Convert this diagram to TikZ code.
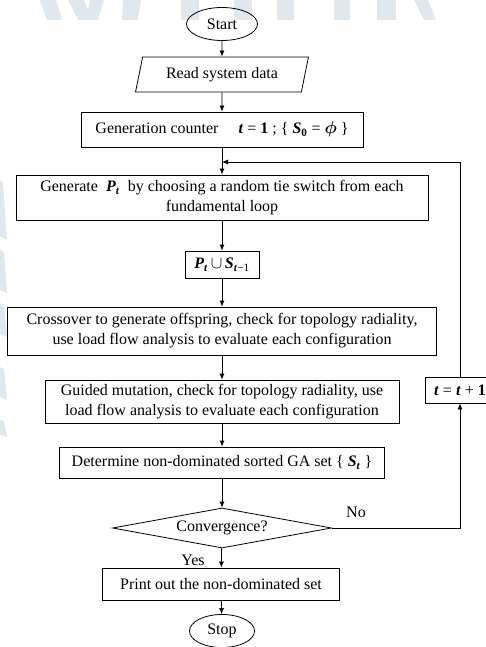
\documentclass[tikz,border=0pt]{standalone}
\usepackage{amsmath}
\usepackage{amssymb}
\usepackage{bm}
\usepackage{fontspec}
\setmainfont{Liberation Serif}
\usetikzlibrary{shapes.geometric,arrows.meta}
\newcommand{\bvar}[1]{\textbf{\textit{#1}}}
\definecolor{wmark}{RGB}{224,231,237}

\begin{document}
\begin{tikzpicture}[x=1pt, y=-1pt, line width=0.8pt,
  font=\fontsize{16}{20}\selectfont,
  >={Latex[length=6pt,width=5pt]},
  box/.style={draw, rectangle, align=center, inner sep=2pt},
  term/.style={draw, ellipse, inner sep=0pt},
  io/.style={draw, trapezium, trapezium left angle=71, trapezium right angle=109, trapezium stretches=true, inner sep=0pt},
  test/.style={draw, diamond, aspect=5.5, inner sep=0pt}]

\useasboundingbox (0,0) rectangle (486,647);

% faint watermark in the background
\fill[wmark] (40,0) -- (56,0) -- (62,20) -- (47,20) -- cycle;
\fill[wmark] (68,0) -- (84,0) -- (92,20) -- (78,20) -- cycle;
\fill[wmark] (90,0) -- (104,0) -- (98,20) -- (86,20) -- cycle;
\fill[wmark] (123,0) -- (141,0) -- (138,20) -- (122,20) -- cycle;
\fill[wmark] (181,0) -- (199,0) -- (199,20) -- (181,20) -- cycle;
\fill[wmark] (234,0) -- (252,0) -- (252,20) -- (234,20) -- cycle;
\fill[wmark] (277,0) -- (294,0) -- (294,20) -- (277,20) -- cycle;
\fill[wmark] (334,0) -- (350,0) -- (350,20) -- (334,20) -- cycle;
\fill[wmark] (377,0) -- (396,0) -- (396,20) -- (377,20) -- cycle;
\fill[wmark] (414,0) -- (428,0) -- (436,20) -- (424,20) -- cycle;
\fill[wmark] (0,180) -- (3,182) -- (7,240) -- (0,236) -- cycle;
\fill[wmark] (0,250) -- (4,252) -- (7,293) -- (0,290) -- cycle;
\fill[wmark] (0,303) -- (4,305) -- (7,337) -- (0,334) -- cycle;
\fill[wmark] (0,367) -- (4,369) -- (7,400) -- (0,397) -- cycle;
\fill[wmark] (0,420) -- (4,421) -- (7,437) -- (0,435) -- cycle;

\node[term, minimum width=71pt, minimum height=33pt] (start) at (222,24) {Start};
\node[io, minimum width=173pt, minimum height=35pt] (read) at (222,74.5) {Read system data};
\node[box, minimum width=282pt, minimum height=35pt] (init) at (222,129.5) {Generation counter \quad \bvar{t} = \textbf{1} ; \{ \bvar{S}\textsubscript{\textbf{0}} = $\bm{\phi}$ \}};
\node[box, minimum width=412pt, minimum height=45pt] (gen) at (222,197.5) {Generate \ \bvar{P}\textsubscript{\bvar{t}} \ by choosing a random tie switch from each\\ fundamental loop};
\node[box, minimum width=74pt, minimum height=27pt] (union) at (222,264.5) {\bvar{P}\textsubscript{\bvar{t}}\,$\cup$\,\bvar{S}\textsubscript{\bvar{t}−1}};
\node[box, minimum width=429pt, minimum height=48pt] (cross) at (222,331) {Crossover to generate offspring, check for topology radiality,\\ use load flow analysis to evaluate each configuration};
\node[box, minimum width=354pt, minimum height=43pt] (mut) at (222,401.5) {Guided mutation, check for topology radiality, use\\ load flow analysis to evaluate each configuration};
\node[box, minimum width=325pt, minimum height=31pt] (det) at (222,462.5) {Determine non-dominated sorted GA set \{ \bvar{S}\textsubscript{\bvar{t}} \}};
\node[test, minimum width=219pt, minimum height=40pt] (conv) at (222,528) {Convergence?};
\node[box, minimum width=237pt, minimum height=32pt] (print) at (221,584) {Print out the non-dominated set};
\node[term, minimum width=65pt, minimum height=33pt] (stop) at (222,631) {Stop};
\node[box, minimum width=70pt, minimum height=26pt] (incr) at (460,390) {\bvar{t} = \bvar{t} + \textbf{1}};
\coordinate (join) at (222,162);

\draw[->] (start) -- (read);
\draw[->] (read) -- (init);
\draw[->] (init) -- (gen);
\draw[->] (gen) -- (union);
\draw[->] (union) -- (cross);
\draw[->] (cross) -- (mut);
\draw[->] (mut) -- (det);
\draw[->] (det) -- (conv);
\draw[->] (conv) -- (print);
\draw[->] (print) -- (stop);
\draw[->] (conv.east) -| (incr.south);
\draw[->] (incr.north) |- (join);

\node (no) at (356,512) {No};
\node (yes) at (193,560) {Yes};
\end{tikzpicture}
\end{document}
